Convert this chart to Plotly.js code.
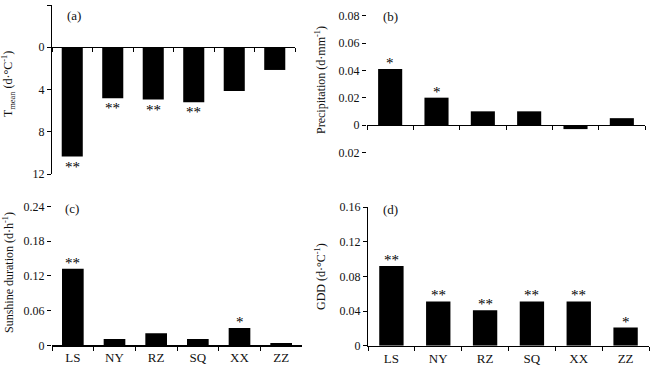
<!DOCTYPE html>
<html>
<head>
<meta charset="utf-8">
<script src="https://cdn.plot.ly/plotly-3.0.1.min.js"></script>
<style>html,body{margin:0;padding:0;background:#fff;}#chart{width:650px;height:366px;}</style>
</head>
<body>
<div id="chart"></div>
<script>
// ---- data ----
var categories = ['LS', 'NY', 'RZ', 'SQ', 'XX', 'ZZ'];
var tempValues = [-10.35, -4.83, -4.95, -5.2, -4.15, -2.15];
var precipValues = [0.041, 0.020, 0.010, 0.010, -0.003, 0.005];
var sunshineValues = [0.132, 0.011, 0.021, 0.011, 0.030, 0.004];
var gddValues = [0.092, 0.051, 0.041, 0.051, 0.051, 0.021];
var tempSig = ['**', '**', '**', '**', '', ''];
var precipSig = ['*', '*', '', '', '', ''];
var sunshineSig = ['**', '', '', '', '*', ''];
var gddSig = ['**', '**', '**', '**', '**', '*'];
var tempTicks = [4, 0, -4, -8, -12];
var tempTickText = ['4', '0', '4', '8', '12'];
var precipTicks = [0.08, 0.06, 0.04, 0.02, 0, -0.02];
var precipTickText = ['0.08', '0.06', '0.04', '0.02', '0', '0.02'];
var sunshineTicks = [0, 0.06, 0.12, 0.18, 0.24];
var sunshineTickText = ['0', '0.06', '0.12', '0.18', '0.24'];
var gddTicks = [0, 0.04, 0.08, 0.12, 0.16];
var gddTickText = ['0', '0.04', '0.08', '0.12', '0.16'];
var yTitles = ['T<sub>mean</sub> (d·°C<sup>-1</sup>)', 'Precipitation (d·mm<sup>-1</sup>)',
               'Sunshine duration (d·h<sup>-1</sup>)', 'GDD (d·°C<sup>-1</sup>)'];
var panelLabels = ['(a)', '(b)', '(c)', '(d)'];

// ---- layout helpers (pixel -> paper) ----
var W = 650, H = 366;
function px(x) { return x / W; }
function py(y) { return 1 - y / H; }
var FONT = 'Liberation Serif, Times New Roman, serif';

var panels = [
  {vals: tempValues, sig: tempSig, ticks: tempTicks, tt: tempTickText, range: [-12, 4],
   xd: [52, 295], yd: [5, 174], showX: false, yline: true, zeroAxis: true,
   title: {x: 8, y: 84}, label: {x: 74, y: 15}},
  {vals: precipValues, sig: precipSig, ticks: precipTicks, tt: precipTickText, range: [-0.03, 0.09],
   xd: [367, 645], yd: [2, 166], showX: false, yline: false, zeroAxis: true,
   title: {x: 320, y: 80}, label: {x: 390, y: 16}},
  {vals: sunshineValues, sig: sunshineSig, ticks: sunshineTicks, tt: sunshineTickText, range: [0, 0.24],
   xd: [52, 302], yd: [206.3, 345.3], showX: true, yline: false, zeroAxis: false,
   title: {x: 8, y: 273}, label: {x: 72, y: 208}},
  {vals: gddValues, sig: gddSig, ticks: gddTicks, tt: gddTickText, range: [0, 0.16],
   xd: [368, 649], yd: [207, 345.7], showX: true, yline: true, zeroAxis: false,
   title: {x: 320, y: 277}, label: {x: 390, y: 209}}
];

var data = [];
var layout = {
  width: W, height: H,
  margin: {l: 0, r: 0, t: 0, b: 0},
  paper_bgcolor: '#fff', plot_bgcolor: '#fff',
  showlegend: false,
  bargap: 0.48,
  font: {family: FONT, size: 12, color: '#111'},
  annotations: []
};

panels.forEach(function (p, i) {
  var n = i + 1;
  var xn = n === 1 ? 'x' : 'x' + n, yn = n === 1 ? 'y' : 'y' + n;
  var xk = n === 1 ? 'xaxis' : 'xaxis' + n, yk = n === 1 ? 'yaxis' : 'yaxis' + n;
  data.push({
    type: 'bar', x: categories, y: p.vals, xaxis: xn, yaxis: yn,
    marker: {color: '#000', line: {width: 0}}, hoverinfo: 'skip'
  });
  var yDom = [py(p.yd[1]), py(p.yd[0])];
  var xaxis = {
    domain: [px(p.xd[0]), px(p.xd[1])],
    range: [-0.5, 5.5], type: 'category',
    showline: true, linecolor: '#000', linewidth: 1.2,
    ticks: 'outside', tickson: 'boundaries', ticklen: 4, tickcolor: '#000', tickwidth: 1,
    showgrid: false, zeroline: false, fixedrange: true,
    showticklabels: p.showX,
    tickfont: {family: FONT, size: 13, color: '#111'}
  };
  if (p.zeroAxis) {
    var frac = (0 - p.range[0]) / (p.range[1] - p.range[0]);
    xaxis.anchor = 'free';
    xaxis.position = yDom[0] + frac * (yDom[1] - yDom[0]);
  } else {
    xaxis.anchor = yn;
  }
  layout[xk] = xaxis;
  layout[yk] = {
    domain: yDom, range: p.range, anchor: xn,
    tickvals: p.ticks, ticktext: p.tt,
    ticks: 'outside', ticklen: 4, tickcolor: '#000', tickwidth: 1,
    showline: p.yline, linecolor: '#000', linewidth: 1.2,
    showgrid: false, zeroline: false, fixedrange: true,
    tickfont: {family: FONT, size: 12, color: '#111'}
  };
  // significance marks
  p.vals.forEach(function (v, j) {
    if (!p.sig[j]) return;
    var neg = v < 0;
    layout.annotations.push({
      xref: xn, yref: yn, x: categories[j], y: v,
      text: p.sig[j], showarrow: false,
      yanchor: neg ? 'top' : 'bottom', yshift: neg ? 0 : -4,
      font: {family: FONT, size: 15, color: '#000'}
    });
  });
  // y-axis title
  layout.annotations.push({
    xref: 'paper', yref: 'paper', x: px(p.title.x), y: py(p.title.y),
    text: yTitles[i], textangle: -90, showarrow: false,
    xanchor: 'center', yanchor: 'middle',
    font: {family: FONT, size: 12, color: '#111'}
  });
  // panel label
  layout.annotations.push({
    xref: 'paper', yref: 'paper', x: px(p.label.x), y: py(p.label.y),
    text: panelLabels[i], showarrow: false,
    xanchor: 'center', yanchor: 'middle',
    font: {family: FONT, size: 13, color: '#111'}
  });
});

Plotly.newPlot('chart', data, layout, {displayModeBar: false, staticPlot: true});
</script>
</body>
</html>
